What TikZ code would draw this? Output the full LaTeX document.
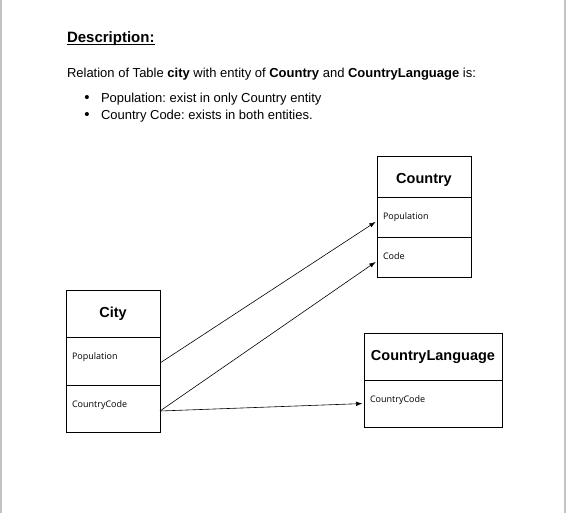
\documentclass[tikz,border=0pt]{standalone}
\usepackage{fontspec}
\setmainfont{Liberation Sans}
\newfontfamily\fieldfont{Open Sans}
\usetikzlibrary{positioning,arrows.meta}
\definecolor{pageedge}{RGB}{195,195,195}
\frenchspacing

\begin{document}
\begin{tikzpicture}
[
    x=1pt, y=-1pt,
    every node/.style={inner sep=0pt, outer sep=0pt},
    head/.style={draw, line width=0.8pt, font=\fontsize{14.5}{17}\selectfont\bfseries},
    field/.style={draw, line width=0.8pt, font=\fontsize{9}{11}\selectfont\fieldfont,
        align=left, inner xsep=6pt, text height=6.5pt},
    body/.style={anchor=base west, font=\fontsize{13}{16}\selectfont},
    link/.style={-{Latex[length=6.5pt,width=4.5pt]}, line width=0.6pt, shorten >=1.5pt},
]
\useasboundingbox (0,0) rectangle (569,513);
\draw[pageedge, line width=1.5pt] (1,0) -- (1,513);
\draw[pageedge, line width=1.5pt] (565,0) -- (565,513);

% description text
\node[anchor=base west, font=\fontsize{15}{18}\selectfont\bfseries] (desc) at (67,43) {Description:};
\draw[line width=1pt] ([yshift=-2pt]desc.base west) -- ([yshift=-2pt]desc.base east);
\node[body] (intro) at (67,78)
{Relation of Table \textbf{city} with entity of \textbf{Country} and \textbf{CountryLanguage} is:};
\node[body] (item1) at (101,103) {Population: exist in only Country entity};
\node[body, anchor=base, font=\fontsize{15}{16}\selectfont] (dot1) at ([xshift=-14pt]item1.base west) {\textbullet};
\node[body] (item2) at (101,120) {Country Code: exists in both entities.};
\node[body, anchor=base, font=\fontsize{15}{16}\selectfont] (dot2) at ([xshift=-14pt]item2.base west) {\textbullet};

% Country
\node[head, minimum width=94pt, minimum height=41pt, text height=16.5pt, text depth=3pt] (country) at (424,176.5) {Country};
\node[field, text width=82pt, minimum height=40pt, text depth=2.5pt, below=0pt of country] (countryPop) {Population};
\node[field, text width=82pt, minimum height=40pt, text depth=2.5pt, below=0pt of countryPop] (countryCode) {Code};

% City
\node[head, minimum width=94pt, minimum height=47pt] (city) at (113,313.5) {City};
\node[field, text width=82pt, minimum height=48pt, text depth=10.5pt, below=0pt of city] (cityPop) {Population};
\node[field, text width=82pt, minimum height=47pt, text depth=9.5pt, below=0pt of cityPop] (cityCode) {CountryCode};

% CountryLanguage
\node[head, minimum width=138pt, minimum height=47pt] (lang) at (433,356.5) {CountryLanguage};
\node[field, text width=126pt, minimum height=47pt, text depth=9.5pt, below=0pt of lang] (langCode) {CountryCode};

% relations
\draw[link] ([yshift=-2pt]cityPop.east) -- ([yshift=-4pt]countryPop.west);
\draw[link] ([yshift=-2.5pt]cityCode.east) -- ([yshift=-4pt]countryCode.west);
\draw[link] ([yshift=-2.5pt]cityCode.east) -- (langCode.west);
\end{tikzpicture}
\end{document}
